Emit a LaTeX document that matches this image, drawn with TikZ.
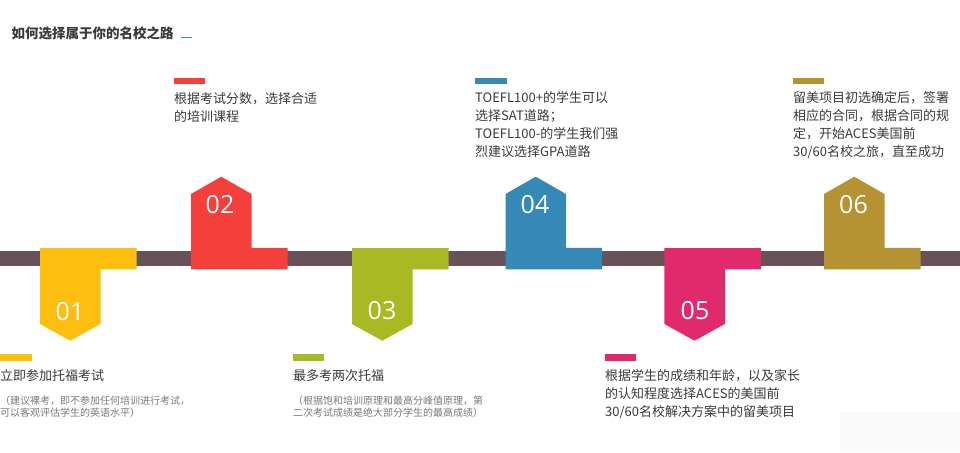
\documentclass[tikz,border=0pt]{standalone}
\usepackage{fontspec}
\newfontfamily\cjk{Noto Sans CJK SC}
\newfontfamily\numfont{Open Sans}
\definecolor{barc}{HTML}{665257}
\definecolor{cone}{HTML}{FDBE10}
\definecolor{ctwo}{HTML}{F43F3B}
\definecolor{cthree}{HTML}{A8B924}
\definecolor{cfour}{HTML}{3589B7}
\definecolor{cfive}{HTML}{E02A6C}
\definecolor{csix}{HTML}{B59333}
\definecolor{txt}{HTML}{3A3A3A}
\definecolor{gtxt}{HTML}{7A7A7A}
\definecolor{faint}{HTML}{FAFAFA}
\tikzset{
  downtab/.pic={\path[pic actions] (0,0) -- (96.5,0) -- (96.5,21.3) -- (60.5,21.3) -- (60.5,76) -- (30.25,92.7) -- (0,76) -- cycle;},
  uptab/.pic={\path[pic actions] (0,0) -- (96.5,0) -- (96.5,-21.5) -- (60.5,-21.5) -- (60.5,-75.3) -- (30.25,-92.6) -- (0,-75.3) -- cycle;},
  num/.style={font=\numfont\fontsize{25}{25}\selectfont, text=white, inner sep=0},
  body/.style={font=\cjk\fontsize{13}{17.9}\selectfont, text=txt, align=left, anchor=north west, inner sep=0},
  note/.style={font=\cjk\fontsize{10}{12}\selectfont, text=gtxt, align=left, anchor=north west, inner sep=0},
}
\begin{document}
\begin{tikzpicture}[x=1pt,y=-1pt]
\useasboundingbox (0,0) rectangle (960,452);
\fill[white] (0,0) rectangle (960,452);
\fill[faint] (840,412) rectangle (960,452);
% title
\node[font=\cjk\bfseries\fontsize{13.5}{14}\selectfont, text=txt, anchor=west, inner sep=0] (title) at (11.5,33) {如何选择属于你的名校之路};
\draw[cfour, line width=1.5pt] (181,37.5) -- (192,37.5);
% timeline bar
\fill[barc] (0,251) rectangle (960,266);
% tabs
\pic[fill=cone] at (40,248) {downtab};
\pic[fill=ctwo] at (191,269.3) {uptab};
\pic[fill=cthree] at (352,248) {downtab};
\pic[fill=cfour] at (505.5,269.3) {uptab};
\pic[fill=cfive] at (664.3,248) {downtab};
\pic[fill=csix] at (824,269.3) {uptab};
% numbers
\node[num] (n1) at (70,312) {01};
\node[num] (n2) at (220,205) {02};
\node[num] (n3) at (382,310.5) {03};
\node[num] (n4) at (535,204.5) {04};
\node[num] (n5) at (695,310.5) {05};
\node[num] (n6) at (853.5,204.5) {06};
% top text blocks
\fill[ctwo] (174,77.5) rectangle (205,83.5);
\node[body] (t2) at (174,92.3) {根据考试分数，选择合适\\的培训课程};
\fill[cfour] (475,77.5) rectangle (506.5,83.5);
\node[body] (t4) at (475,91.5) {TOEFL100+的学生可以\\选择SAT道路；\\TOEFL100-的学生我们强\\烈建议选择GPA道路};
\fill[csix] (793,77.5) rectangle (824,83.5);
\node[body] (t6) at (793,91.5) {留美项目初选确定后，签署\\相应的合同，根据合同的规\\定，开始ACES美国前\\30/60名校之旅，直至成功};
% bottom text blocks
\fill[cone] (0,354) rectangle (32,361);
\node[body] (t1) at (0,369.3) {立即参加托福考试};
\node[note] (g1) at (0,396.2) {（建议裸考，即不参加任何培训进行考试，\\可以客观评估学生的英语水平）};
\fill[cthree] (293,354) rectangle (324,361);
\node[body] (t3) at (293,369.3) {最多考两次托福};
\node[note] (g3) at (293,396.2) {（根据饱和培训原理和最高分峰值原理，第\\二次考试成绩是绝大部分学生的最高成绩）};
\fill[cfive] (605,354) rectangle (636,361);
\node[body] (t5) at (605,369.3) {根据学生的成绩和年龄，以及家长\\的认知程度选择ACES的美国前\\30/60名校解决方案中的留美项目};
\end{tikzpicture}
\end{document}
